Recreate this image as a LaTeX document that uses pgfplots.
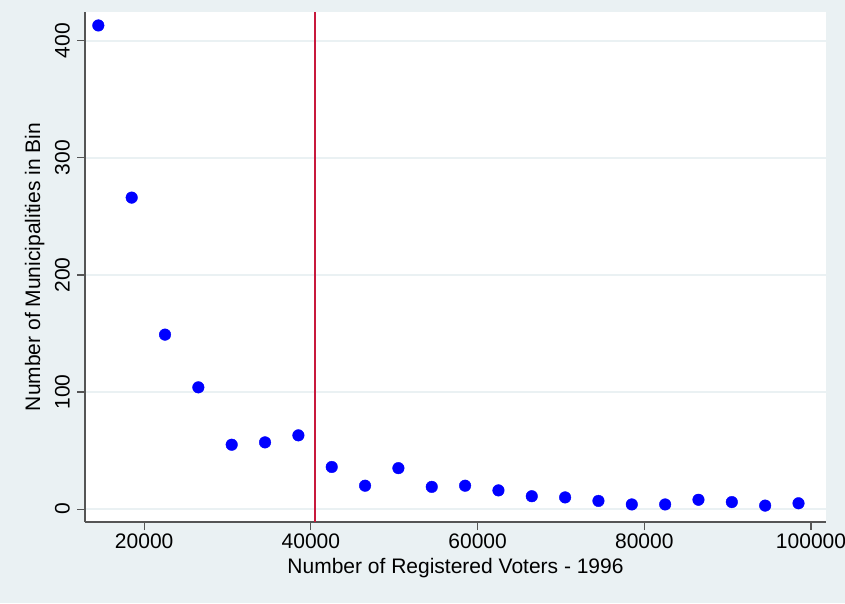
\documentclass[border=0pt]{standalone}
\usepackage{pgfplots}
\pgfplotsset{compat=1.18}
\usepackage{fontspec}
\setmainfont{Liberation Sans}
\definecolor{bgc}{RGB}{234,241,243}
\definecolor{gridc}{RGB}{234,241,243}
\definecolor{axc}{RGB}{85,85,85}
\definecolor{redc}{RGB}{200,25,60}
\begin{document}
\fontsize{21}{25}\selectfont
\begin{tikzpicture}[x=1pt,y=1pt]
\fill[bgc] (0,0) rectangle (845,603);
\begin{axis}[
  at={(85pt,81pt)}, anchor=south west,
  scale only axis, width=741pt, height=510pt,
  xmin=12900, xmax=101800, ymin=-11, ymax=424.5,
  axis x line*=bottom, axis y line*=left,
  axis line style={axc, line width=1.2pt, -},
  axis background/.style={fill=white},
  xtick={20000,40000,60000,80000,100000},
  ytick={0,100,200,300,400},
  scaled ticks=false,
  /pgf/number format/.cd, 1000 sep={}, fixed, assume math mode=true, /pgfplots/.cd,
  tick align=outside, major tick length=8pt,
  tick style={axc, line width=1.2pt},
  tick label style={font=\fontsize{21}{25}\selectfont},
  yticklabel style={rotate=90, anchor=south, inner sep=7pt},
  xticklabel style={anchor=north, inner sep=4pt},
  ymajorgrids, grid style={gridc, line width=1.8pt},
  label style={font=\fontsize{21}{25}\selectfont},
  xlabel={Number of Registered Voters - 1996},
  ylabel={Number of Municipalities in Bin},
  every axis x label/.style={at={(axis description cs:0.5,-0.09)}, anchor=center},
  every axis y label/.style={at={(axis description cs:-0.068,0.5)}, rotate=90, anchor=center},
  clip=false,
]
\addplot[redc, line width=1.6pt] coordinates {(40500,-11) (40500,424.5)};
\addplot[only marks, mark=*, mark size=5.8pt, mark options={draw=blue, fill=blue}, color=blue] coordinates {
(14500,413) (18500,266) (22500,149) (26500,104) (30500,55) (34500,57) (38500,63)
(42500,36) (46500,20) (50500,35) (54500,19) (58500,20) (62500,16) (66500,11)
(70500,10) (74500,7) (78500,4) (82500,4) (86500,8) (90500,6) (94500,3) (98500,5)
};
\end{axis}
\pgfresetboundingbox
\useasboundingbox (0,0) rectangle (845,603);
\end{tikzpicture}
\end{document}
